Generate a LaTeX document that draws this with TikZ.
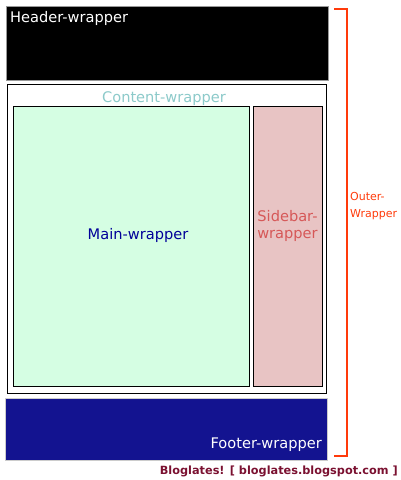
\documentclass[tikz,border=0pt]{standalone}
\usepackage{fontspec}
\setmainfont{DejaVu Sans}
\usetikzlibrary{positioning}
\definecolor{footblue}{HTML}{131390}
\definecolor{maingreen}{HTML}{D5FEE3}
\definecolor{sidepink}{HTML}{E8C4C4}
\definecolor{outerred}{HTML}{FF3A0A}
\definecolor{contteal}{HTML}{8CCACA}
\definecolor{sidered}{HTML}{D65858}
\definecolor{blogred}{HTML}{7A1030}

\begin{document}
\begin{tikzpicture}[x=1pt, y=-1pt, font=\fontsize{14.6}{16.5}\selectfont]
  \useasboundingbox (0,0) rectangle (400,480);
  % Header
  \filldraw[fill=black, draw=black!40, line width=0.8pt] (6,6) rectangle (328,80);
  \node[white, anchor=north west, inner sep=0pt] (header) at (10,11) {Header-wrapper};
  % Content
  \filldraw[fill=white, draw=black, line width=1.6pt] (7.5,84.5) rectangle (326.5,393.5);
  \node[contteal, inner sep=0pt] (content) at (164,99) {Content-wrapper};
  % Main
  \filldraw[fill=maingreen, draw=black, line width=1pt] (13.5,106.5) rectangle (249.5,386.5);
  \node[blue!60!black, inner sep=0pt] (main) at (138,235) {Main-wrapper};
  % Sidebar
  \filldraw[fill=sidepink, draw=black, line width=1pt] (253.5,106.5) rectangle (322,386.5);
  \node[sidered, align=center, inner sep=0pt] (sidebar) at (287.5,226) {Sidebar-\\wrapper};
  % Footer
  \filldraw[fill=footblue, draw=black!20, line width=0.5pt] (5,398) rectangle (327.5,460);
  \node[white, anchor=south east, inner sep=0pt] (footer) at (322,452) {Footer-wrapper};
  % Outer bracket
  \draw[outerred, line width=2.2pt] (334,9) -- (347,9) -- (347,456) -- (334,456);
  \node[outerred, align=left, anchor=west, inner sep=0pt, font=\fontsize{11}{17}\selectfont] (outer) at (350,206) {Outer-\\Wrapper};
  % Credit
  \node[blogred, anchor=east, inner sep=0pt, font=\bfseries\fontsize{11.3}{14}\selectfont] (credit) at (398,471) {Bloglates! [ bloglates.blogspot.com ]};
\end{tikzpicture}
\end{document}
